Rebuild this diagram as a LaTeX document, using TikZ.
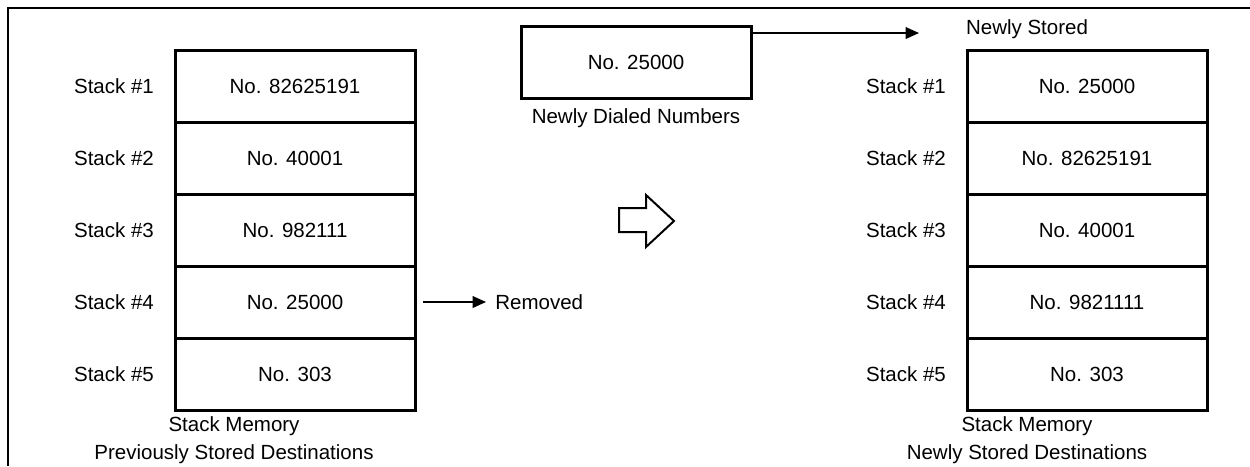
\documentclass[tikz,border=0pt]{standalone}
\usepackage{fontspec}
\setmainfont{Liberation Sans}
\usetikzlibrary{arrows.meta,calc}
\begin{document}
\begin{tikzpicture}[x=0.6pt,y=-0.6pt,
  every node/.style={font=\fontsize{12.3}{14.5}\selectfont, inner sep=0pt},
  cell/.style={draw, line width=1.8pt, minimum width=144pt, minimum height=43.2pt},
  lbl/.style={anchor=center},
  conn/.style={line width=0.9pt, -{Triangle[length=8pt,width=7pt]}},
  frame/.style={line width=1.2pt}]
\useasboundingbox (0,0) rectangle (1250,466);
% frame
\draw[frame] (1250,8) -- (8,8) -- (8,466);
% left stack
\foreach \i/\v in {1/No. 82625191,2/No. 40001,3/No. 982111,4/No. 25000,5/No. 303}{
  \node[cell] (L\i) at (295,{14+72*\i}) {\v};
  \node[lbl] (LS\i) at (114,{14+72*\i}) {Stack \#\i};
}
\foreach \i/\v in {1/No. 25000,2/No. 82625191,3/No. 40001,4/No. 9821111,5/No. 303}{
  \node[cell] (R\i) at (1087,{14+72*\i}) {\v};
  \node[lbl] (RS\i) at (906,{14+72*\i}) {Stack \#\i};
}
\node[align=center] (LC) at (234,440) {Stack Memory\\[2pt]Previously Stored Destinations};
\node[align=center] (RC) at (1027,440) {Stack Memory\\[2pt]Newly Stored Destinations};
% new number
\node[draw, line width=1.8pt, minimum width=138pt, minimum height=43.2pt] (NB) at (636,62) {No. 25000};
\node (ND) at (636,118) {Newly Dialed Numbers};
\node (NS) at (1027,29) {Newly Stored};
\coordinate (NSa) at (919,33);
\draw[conn] (NB.east |- NSa) -- (NSa);
% removed
\node[anchor=west] (RM) at (495,302) {Removed};
\draw[conn] ($(L4.east)+(6,0)$) -- ($(RM.west)+(-9,0)$);
% hollow arrow
\draw[line width=1.2pt] (619,208) -- (646,208) -- (646,195) -- (674,221) -- (646,247) -- (646,232) -- (619,232) -- cycle;
\end{tikzpicture}
\end{document}
